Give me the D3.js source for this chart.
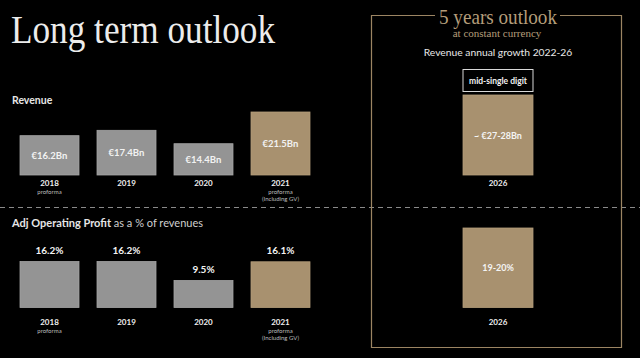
<!DOCTYPE html>
<html><head><meta charset="utf-8">
<script src="https://cdn.jsdelivr.net/npm/d3@7"></script>
<style>
html,body{margin:0;padding:0;background:#000;}
svg{display:block;}
</style></head>
<body>
<script>
// ---- data ----
const years = ["2018", "2019", "2020", "2021"];
const yearNotes = [["proforma"], [], [], ["proforma", "(Including GV)"]];
const revenue = [16.2, 17.4, 14.4, 21.5];
const revenueLabels = ["€16.2Bn", "€17.4Bn", "€14.4Bn", "€21.5Bn"];
const opMargin = [16.2, 16.2, 9.5, 16.1];
const opLabels = ["16.2%", "16.2%", "9.5%", "16.1%"];
const highlightYear = "2021";
const outlookYears = ["2026"];
const outlookRevenue = [27.5];
const outlookRevenueLabels = ["~ €27-28Bn"];
const outlookMargin = [19.5];
const outlookMarginLabels = ["19-20%"];

// ---- styles ----
const W = 640, H = 358;
const GREY = "#949494", TAN = "#a8916f", FRAME = "#9c8563";
const SANS = "Lato, 'Open Sans', sans-serif";
const SERIF = "'Liberation Serif', 'DejaVu Serif', serif";

const svg = d3.select("body").append("svg").attr("width", W).attr("height", H)
  .style("background", "#000");

// title
svg.append("text").attr("x", 11).attr("y", 43)
  .attr("font-family", SERIF).attr("font-size", 40).attr("fill", "#ececec")
  .attr("textLength", 264).attr("lengthAdjust", "spacingAndGlyphs")
  .text("Long term outlook");

// dashed separator
svg.append("line").attr("x1", 0).attr("x2", W).attr("y1", 207.5).attr("y2", 207.5)
  .attr("stroke", "#8a8a8a").attr("stroke-width", 1).attr("stroke-dasharray", "5,4");

// scales
const x = d3.scaleBand().domain(years).range([2, 328]).paddingInner(0.234).paddingOuter(0.234);
const yRev = d3.scaleLinear().domain([7.4, 21.5]).range([175, 112]);
const yOp = d3.scaleLinear().domain([0, 16.2]).range([307.5, 261.5]);

const xo = d3.scaleBand().domain(outlookYears).range([373, 623]).paddingInner(0).paddingOuter(1.286);
const yoRev = d3.scaleLinear().domain([0, 27.5]).range([175, 95]);
const yoOp = d3.scaleLinear().domain([0, 19.5]).range([307.5, 228]);

// section labels
svg.append("text").attr("x", 12).attr("y", 104)
  .attr("font-family", SANS).attr("font-weight", 700).attr("font-size", 10.5).attr("fill", "#e6e6e6")
  .text("Revenue");
const opT = svg.append("text").attr("x", 12).attr("y", 227)
  .attr("font-family", SANS).attr("font-size", 11).attr("fill", "#e6e6e6");
opT.append("tspan").attr("font-weight", 700).text("Adj Operating Profit");
opT.append("tspan").attr("fill", "#cfcfcf").attr("font-weight", 400).text(" as a % of revenues");

// revenue bars
const rev = years.map((y, i) => ({year: y, v: revenue[i], label: revenueLabels[i], notes: yearNotes[i]}));
const op = years.map((y, i) => ({year: y, v: opMargin[i], label: opLabels[i], notes: yearNotes[i]}));

svg.append("g").selectAll("rect").data(rev).join("rect")
  .attr("x", d => x(d.year)).attr("width", x.bandwidth())
  .attr("y", d => yRev(d.v)).attr("height", d => yRev.range()[0] - yRev(d.v))
  .attr("fill", d => d.year === highlightYear ? TAN : GREY)
  .attr("stroke", d => d.year === highlightYear ? "#b39d7a" : "#a5a5a5").attr("stroke-width", 0.8);
svg.append("g").selectAll("text").data(rev).join("text")
  .attr("x", d => x(d.year) + x.bandwidth() / 2)
  .attr("y", d => (yRev(d.v) + yRev.range()[0]) / 2 + 3.5)
  .attr("text-anchor", "middle").attr("font-family", SANS).attr("font-weight", 700)
  .attr("font-size", 9.5).attr("fill", "#f2f2f2").text(d => d.label);

// op bars
svg.append("g").selectAll("rect").data(op).join("rect")
  .attr("x", d => x(d.year)).attr("width", x.bandwidth())
  .attr("y", d => yOp(d.v)).attr("height", d => yOp.range()[0] - yOp(d.v))
  .attr("fill", d => d.year === highlightYear ? TAN : GREY)
  .attr("stroke", d => d.year === highlightYear ? "#b39d7a" : "#a5a5a5").attr("stroke-width", 0.8);
svg.append("g").selectAll("text").data(op).join("text")
  .attr("x", d => x(d.year) + x.bandwidth() / 2)
  .attr("y", d => yOp(d.v) - 7.5)
  .attr("text-anchor", "middle").attr("font-family", SANS).attr("font-weight", 700)
  .attr("font-size", 10).attr("fill", "#f2f2f2").text(d => d.label);

// year labels
function yearLabels(data, yBase) {
  const g = svg.append("g");
  data.forEach(d => {
    const cx = x(d.year) + x.bandwidth() / 2;
    g.append("text").attr("x", cx).attr("y", yBase).attr("text-anchor", "middle")
      .attr("font-family", SANS).attr("font-weight", 700).attr("font-size", 8).attr("fill", "#f0f0f0")
      .text(d.year);
    d.notes.forEach((n, j) => {
      g.append("text").attr("x", cx).attr("y", yBase + 7.5 + j * 7.5).attr("text-anchor", "middle")
        .attr("font-family", SANS).attr("font-size", 6).attr("fill", "#bdbdbd").text(n);
    });
  });
}
yearLabels(rev, 186);
yearLabels(op, 325);

// outlook frame
const fx0 = 371.5, fx1 = 621.5, fy0 = 15.5, fy1 = 347.5;
const frame = d3.path();
frame.moveTo(435, fy0); frame.lineTo(fx0, fy0); frame.lineTo(fx0, fy1);
frame.lineTo(fx1, fy1); frame.lineTo(fx1, fy0); frame.lineTo(560, fy0);
svg.append("path").attr("d", frame.toString()).attr("fill", "none")
  .attr("stroke", FRAME).attr("stroke-width", 1.2);

svg.append("text").attr("x", 498).attr("y", 23.5).attr("text-anchor", "middle")
  .attr("font-family", SERIF).attr("font-size", 22).attr("fill", "#b49d7a")
  .attr("textLength", 118).attr("lengthAdjust", "spacingAndGlyphs")
  .text("5 years outlook");
svg.append("text").attr("x", 497).attr("y", 37).attr("text-anchor", "middle")
  .attr("font-family", SERIF).attr("font-size", 11).attr("fill", "#b49d7a")
  .text("at constant currency");
svg.append("text").attr("x", 498).attr("y", 55.5).attr("text-anchor", "middle")
  .attr("font-family", SANS).attr("font-size", 10.3).attr("fill", "#e8e8e8")
  .text("Revenue annual growth 2022-26");

// mid-single digit box
svg.append("rect").attr("x", xo("2026")).attr("width", xo.bandwidth())
  .attr("y", 69.5).attr("height", 22).attr("fill", "#000")
  .attr("stroke", "#d8d8d8").attr("stroke-width", 1);
svg.append("text").attr("x", xo("2026") + xo.bandwidth() / 2).attr("y", 84)
  .attr("text-anchor", "middle").attr("font-family", SANS).attr("font-weight", 700)
  .attr("font-size", 8.5).attr("fill", "#f2f2f2").text("mid-single digit");

// outlook bars
const oRev = outlookYears.map((y, i) => ({year: y, v: outlookRevenue[i], label: outlookRevenueLabels[i]}));
const oOp = outlookYears.map((y, i) => ({year: y, v: outlookMargin[i], label: outlookMarginLabels[i]}));
function outlookBars(data, ys, yYear) {
  const g = svg.append("g");
  g.selectAll("rect").data(data).join("rect")
    .attr("x", d => xo(d.year)).attr("width", xo.bandwidth())
    .attr("y", d => ys(d.v)).attr("height", d => ys.range()[0] - ys(d.v))
    .attr("fill", TAN).attr("stroke", "#b39d7a").attr("stroke-width", 0.8);
  g.selectAll("text.v").data(data).join("text").attr("class", "v")
    .attr("x", d => xo(d.year) + xo.bandwidth() / 2)
    .attr("y", d => (ys(d.v) + ys.range()[0]) / 2 + 3.5)
    .attr("text-anchor", "middle").attr("font-family", SANS).attr("font-weight", 700)
    .attr("font-size", 9).attr("fill", "#f4f4f4").text(d => d.label);
  g.selectAll("text.yr").data(data).join("text").attr("class", "yr")
    .attr("x", d => xo(d.year) + xo.bandwidth() / 2).attr("y", yYear)
    .attr("text-anchor", "middle").attr("font-family", SANS).attr("font-weight", 700)
    .attr("font-size", 8).attr("fill", "#f0f0f0").text(d => d.year);
}
outlookBars(oRev, yoRev, 186);
outlookBars(oOp, yoOp, 325);
</script>
</body></html>
